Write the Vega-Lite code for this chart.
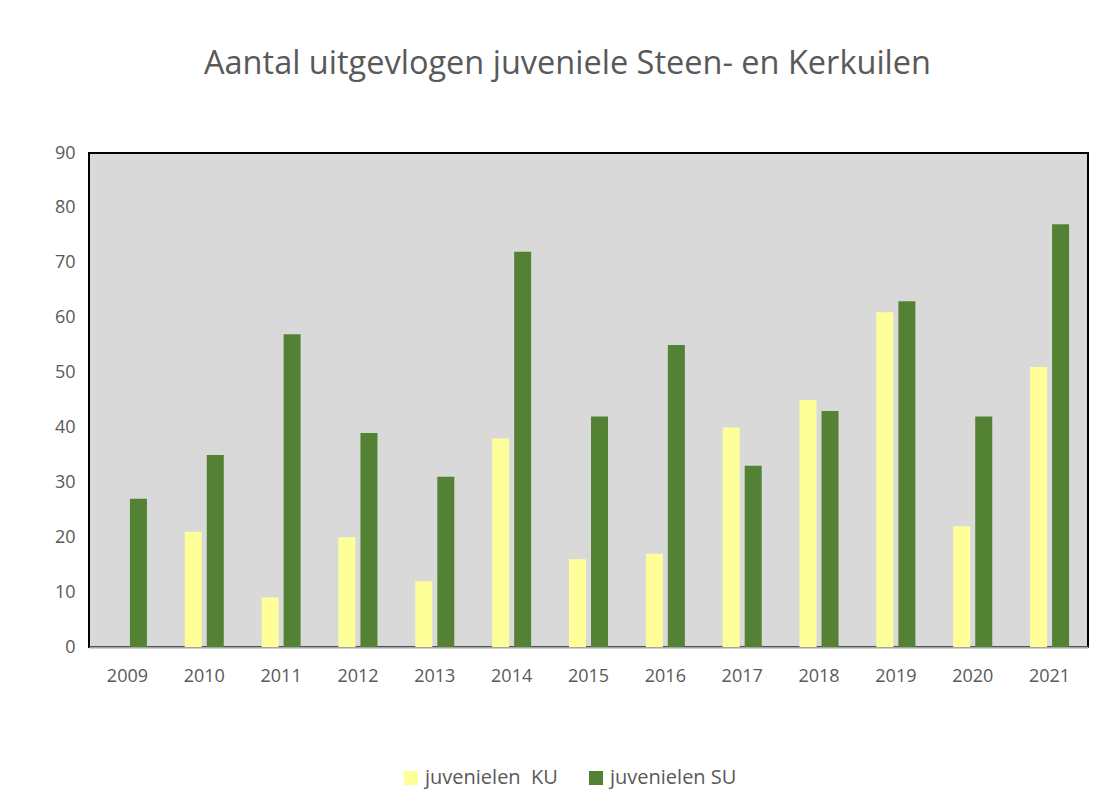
{
  "$schema": "https://vega.github.io/schema/vega-lite/v6.json",
  "autosize": {"type": "none"},
  "width": 999,
  "height": 494,
  "padding": {"left": 89, "top": 153, "right": 22, "bottom": 164},
  "background": "white",
  "title": {
    "text": "Aantal uitgevlogen juveniele Steen- en Kerkuilen",
    "font": "Open Sans",
    "fontSize": 32.5,
    "fontWeight": "normal",
    "color": "#595959",
    "anchor": "middle",
    "dx": -21,
    "offset": 64
  },
  "data": {
    "values": [
      {"jaar": "2009", "serie": "juvenielen \u00a0KU", "aantal": 0},
      {"jaar": "2010", "serie": "juvenielen \u00a0KU", "aantal": 21},
      {"jaar": "2011", "serie": "juvenielen \u00a0KU", "aantal": 9},
      {"jaar": "2012", "serie": "juvenielen \u00a0KU", "aantal": 20},
      {"jaar": "2013", "serie": "juvenielen \u00a0KU", "aantal": 12},
      {"jaar": "2014", "serie": "juvenielen \u00a0KU", "aantal": 38},
      {"jaar": "2015", "serie": "juvenielen \u00a0KU", "aantal": 16},
      {"jaar": "2016", "serie": "juvenielen \u00a0KU", "aantal": 17},
      {"jaar": "2017", "serie": "juvenielen \u00a0KU", "aantal": 40},
      {"jaar": "2018", "serie": "juvenielen \u00a0KU", "aantal": 45},
      {"jaar": "2019", "serie": "juvenielen \u00a0KU", "aantal": 61},
      {"jaar": "2020", "serie": "juvenielen \u00a0KU", "aantal": 22},
      {"jaar": "2021", "serie": "juvenielen \u00a0KU", "aantal": 51},
      {"jaar": "2009", "serie": "juvenielen SU", "aantal": 27},
      {"jaar": "2010", "serie": "juvenielen SU", "aantal": 35},
      {"jaar": "2011", "serie": "juvenielen SU", "aantal": 57},
      {"jaar": "2012", "serie": "juvenielen SU", "aantal": 39},
      {"jaar": "2013", "serie": "juvenielen SU", "aantal": 31},
      {"jaar": "2014", "serie": "juvenielen SU", "aantal": 72},
      {"jaar": "2015", "serie": "juvenielen SU", "aantal": 42},
      {"jaar": "2016", "serie": "juvenielen SU", "aantal": 55},
      {"jaar": "2017", "serie": "juvenielen SU", "aantal": 33},
      {"jaar": "2018", "serie": "juvenielen SU", "aantal": 43},
      {"jaar": "2019", "serie": "juvenielen SU", "aantal": 63},
      {"jaar": "2020", "serie": "juvenielen SU", "aantal": 42},
      {"jaar": "2021", "serie": "juvenielen SU", "aantal": 77}
    ]
  },
  "mark": {"type": "bar"},
  "encoding": {
    "x": {
      "field": "jaar",
      "type": "nominal",
      "scale": {"paddingInner": 0, "paddingOuter": 0},
      "axis": {
        "title": null,
        "labelAngle": 0,
        "labelFont": "Open Sans",
        "labelFontSize": 18,
        "labelColor": "#595959",
        "labelPadding": 20,
        "ticks": false,
        "domainColor": "#a6a6a6",
        "domainWidth": 2
      }
    },
    "xOffset": {
      "field": "serie",
      "type": "nominal",
      "sort": ["juvenielen \u00a0KU", "juvenielen SU"],
      "scale": {"paddingInner": 0.227, "paddingOuter": 0.86}
    },
    "y": {
      "field": "aantal",
      "type": "quantitative",
      "scale": {"domain": [0, 90], "nice": false},
      "axis": {
        "title": null,
        "values": [0, 10, 20, 30, 40, 50, 60, 70, 80, 90],
        "grid": false,
        "domain": false,
        "ticks": false,
        "labelFont": "Open Sans",
        "labelFontSize": 18,
        "labelColor": "#595959",
        "labelPadding": 14
      }
    },
    "color": {
      "field": "serie",
      "type": "nominal",
      "scale": {"domain": ["juvenielen \u00a0KU", "juvenielen SU"], "range": ["#ffff99", "#548235"]},
      "legend": {
        "title": null,
        "orient": "none",
        "legendX": 312,
        "legendY": 615,
        "direction": "horizontal",
        "symbolType": "square",
        "symbolSize": 196,
        "symbolStrokeWidth": 0,
        "labelFont": "Open Sans",
        "labelFontSize": 20,
        "labelColor": "#595959",
        "columnPadding": 28,
        "labelOffset": 4
      }
    }
  },
  "config": {
    "view": {"fill": "#d9d9d9", "stroke": "black", "strokeWidth": 2}
  }
}
